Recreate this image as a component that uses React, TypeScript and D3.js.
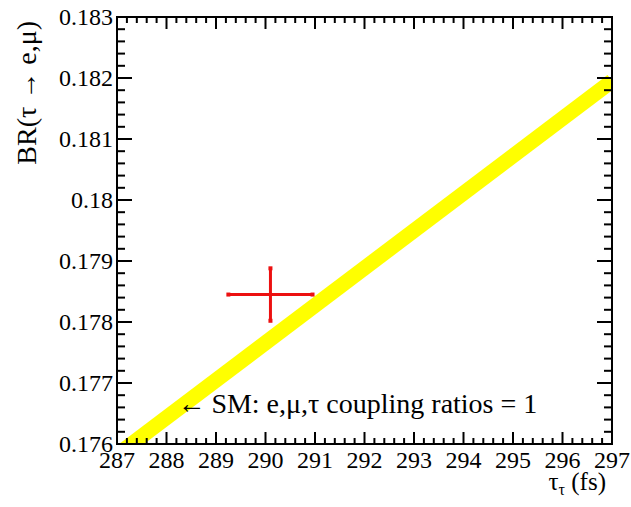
import React from "react";
import { scaleLinear, range, line } from "d3";

// axis ticks / labels
const xTicks = [287, 288, 289, 290, 291, 292, 293, 294, 295, 296, 297];
const yTicks = [0.176, 0.177, 0.178, 0.179, 0.18, 0.181, 0.182, 0.183];
const yTickLabels = ["0.176", "0.177", "0.178", "0.179", "0.18", "0.181", "0.182", "0.183"];

// SM expectation band (BR proportional to lifetime)
const smTau = [287, 297];
const smBR = [0.17582, 0.18195];

// measured point
const measTau = [290.1];
const measTauErr = [0.85];
const measBR = [0.17845];
const measBRErr = [0.00043];

const width = 631;
const height = 507;
const margin = { top: 17, right: 19, bottom: 63, left: 117 };
const font = "Liberation Serif";

const App = () => {
  const innerWidth = width - margin.left - margin.right;
  const innerHeight = height - margin.top - margin.bottom;

  const xScale = scaleLinear().domain([287, 297]).range([0, innerWidth]);
  const yScale = scaleLinear().domain([0.176, 0.183]).range([innerHeight, 0]);

  const xMinor = range(287, 297.001, 0.2);
  const yMinor = range(0.176, 0.18300001, 0.0002);

  const smPts: [number, number][] = smTau.map((t, i) => [t, smBR[i]]);
  const smPath = line<[number, number]>()
    .x(d => xScale(d[0]))
    .y(d => yScale(d[1]))(smPts);

  // legend anchor
  const legX = xScale(288.22);
  const legY = yScale(0.17651);

  return (
    <svg
      width={width}
      height={height}
      style={{ position: "absolute", left: 0, top: 0, background: "white", fontFamily: font }}
    >
      <defs>
        <clipPath id="frame">
          <rect x={0} y={0} width={innerWidth} height={innerHeight} />
        </clipPath>
      </defs>
      <g transform={`translate(${margin.left}, ${margin.top})`}>
        {/* SM band */}
        <path d={smPath || ""} stroke="#ffff00" strokeWidth={15} fill="none" clipPath="url(#frame)" />

        {/* measurement */}
        {measTau.map((t, i) => {
          const cx = xScale(t);
          const cy = yScale(measBR[i]);
          const x0 = xScale(t - measTauErr[i]);
          const x1 = xScale(t + measTauErr[i]);
          const y0 = yScale(measBR[i] + measBRErr[i]);
          const y1 = yScale(measBR[i] - measBRErr[i]);
          return (
            <g key={i} stroke="#ec1010" fill="#ec1010">
              <line x1={x0} x2={x1} y1={cy} y2={cy} strokeWidth={3} />
              <line x1={cx} x2={cx} y1={y0} y2={y1} strokeWidth={3} />
              <rect x={x0 - 2} y={cy - 2} width={4} height={4} strokeWidth={0} />
              <rect x={x1 - 2} y={cy - 2} width={4} height={4} strokeWidth={0} />
              <rect x={cx - 2} y={y0 - 2} width={4} height={4} strokeWidth={0} />
              <rect x={cx - 2} y={y1 - 2} width={4} height={4} strokeWidth={0} />
            </g>
          );
        })}

        {/* legend text */}
        <text
          x={legX}
          y={legY}
          fontSize={28}
          textLength={28}
          lengthAdjust="spacingAndGlyphs"
          style={{ fontFamily: font }}
        >
          {"\u2190"}
        </text>
        <text x={legX + 34} y={legY} style={{ fontFamily: font }} fontSize={28} fill="black">
          {"SM: e,\u03bc,\u03c4 coupling ratios = 1"}
        </text>

        {/* frame */}
        <rect x={0} y={0} width={innerWidth} height={innerHeight} fill="none" stroke="black" strokeWidth={2} />

        {/* x ticks bottom & top */}
        {xMinor.map((v, i) => {
          const major = Math.abs(v - Math.round(v)) < 1e-6;
          const len = major ? 12 : 6;
          return (
            <g key={i} transform={`translate(${xScale(v)}, 0)`} stroke="black" strokeWidth={2}>
              <line y1={innerHeight} y2={innerHeight - len} />
              <line y1={0} y2={len} />
            </g>
          );
        })}
        {/* y ticks left & right */}
        {yMinor.map((v, i) => {
          const major = Math.abs(v * 1000 - Math.round(v * 1000)) < 1e-6;
          const len = major ? 15 : 8;
          return (
            <g key={i} transform={`translate(0, ${yScale(v)})`} stroke="black" strokeWidth={2}>
              <line x1={0} x2={len} />
              <line x1={innerWidth} x2={innerWidth - len} />
            </g>
          );
        })}

        {/* tick labels */}
        {xTicks.map((t, i) => (
          <text key={i} x={xScale(t)} y={innerHeight + 24} textAnchor="middle" style={{ fontFamily: font }} fontSize={24}>
            {t}
          </text>
        ))}
        {yTicks.map((t, i) => (
          <text key={i} x={-4} y={yScale(t)} dy="0.35em" textAnchor="end" style={{ fontFamily: font }} fontSize={24}>
            {yTickLabels[i]}
          </text>
        ))}

        {/* axis titles */}
        <text x={innerWidth - 6} y={innerHeight + 46} textAnchor="end" style={{ fontFamily: font }} fontSize={25}>
          {"\u03c4"}
          <tspan fontSize={16} dy={5}>{"\u03c4"}</tspan>
          <tspan dy={-5}>{" (fs)"}</tspan>
        </text>
        <text
          transform={`translate(${-81}, 0) rotate(-90)`}
          x={-4}
          y={0}
          textAnchor="end"
          style={{ fontFamily: font }}
          fontSize={28}
        >
          {"BR(\u03c4 \u2192 e,\u03bc)"}
        </text>
      </g>
    </svg>
  );
};

export default App;
